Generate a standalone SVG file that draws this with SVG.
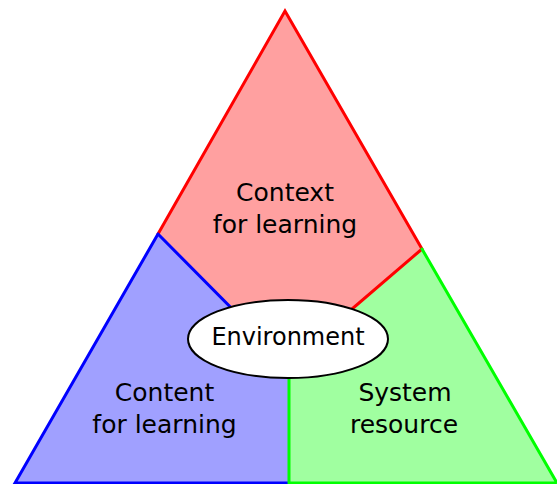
<svg xmlns="http://www.w3.org/2000/svg" width="557" height="484" viewBox="0 0 557 484">
<style>
.lbl{font-family:"DejaVu Sans",sans-serif;font-size:25px;fill:#000;text-anchor:middle}
.env{font-size:24px}
.e{stroke-width:3;stroke-linecap:round;fill:none}
</style>
<rect width="557" height="484" fill="#fff"/>
<g id="context">
<polygon points="285,11 422,249 317,339 262,339 158,234" fill="#ffa0a0"/>
</g>
<g id="content">
<polygon points="158,234 262,339 289,339 289,483 15,483" fill="#a0a0ff"/>
</g>
<g id="system">
<polygon points="422,249 557,483 289,483 289,339 317,339" fill="#a0ffa0"/>
</g>
<g id="connectors">
<path class="e" stroke="#ff0000" d="M158,234 L285,11 L422,249 M422,249 L317,339"/>
<path class="e" stroke="#0000ff" d="M158,234 L15,483 L289,483 M158,234 L262,339"/>
<path class="e" stroke="#00ff00" d="M422,249 L557,483 L289,483 M289,339 L289,483"/>
</g>
<g id="context-label">
<text class="lbl" x="285" y="201">Context</text>
<text class="lbl" x="285" y="233">for learning</text>
</g>
<g id="content-label">
<text class="lbl" x="164.5" y="401">Content</text>
<text class="lbl" x="164.5" y="433">for learning</text>
</g>
<g id="system-label">
<text class="lbl" x="405" y="401">System</text>
<text class="lbl" x="404" y="433">resource</text>
</g>
<g id="environment">
<ellipse cx="288" cy="339" rx="100" ry="39" fill="#fff" stroke="#000" stroke-width="2"/>
<text class="lbl env" x="288" y="345">Environment</text>
</g>
</svg>
